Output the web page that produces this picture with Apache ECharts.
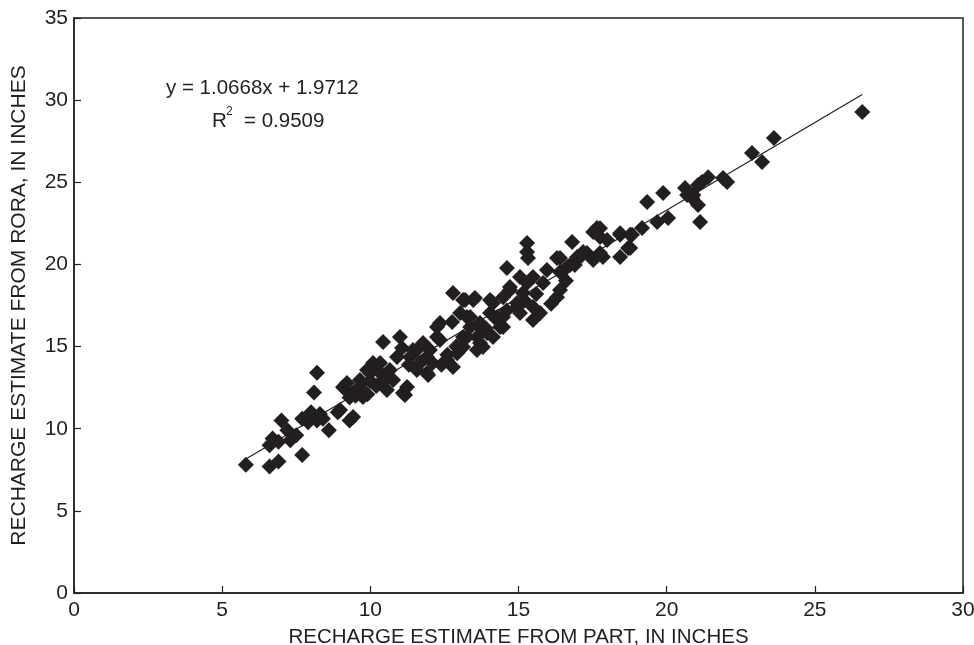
<!DOCTYPE html>
<html>
<head>
<meta charset="utf-8">
<script src="https://cdn.jsdelivr.net/npm/echarts@6/dist/echarts.min.js"></script>
<style>
  html, body { margin: 0; padding: 0; background: #fff; }
  #chart { width: 974px; height: 645px; }
</style>
</head>
<body>
<div id="chart"></div>
<script>
// recharge estimates, PART (x) vs RORA (y), inches
var partX = [
    5.8, 6.6, 6.9, 6.7, 6.6, 6.9, 7.0, 7.2, 7.3, 7.5, 7.7, 7.7, 7.9, 8.0, 8.2, 8.3, 8.4, 8.6, 8.1, 8.2, 8.9, 9.3, 9.1,
    8.98, 9.08, 9.21, 9.42, 9.42, 9.65, 9.72, 9.75, 9.75, 9.89, 9.99, 10.09, 10.09, 10.33, 10.33, 10.33, 10.43, 10.56,
    10.66, 10.77, 10.9, 11.0, 11.07, 11.1, 11.17, 11.24, 11.34, 11.44, 11.57, 11.57, 11.68, 11.78, 11.91, 11.91, 11.95,
    12.01, 9.3, 9.55, 9.9, 10.2, 9.5, 10.0, 10.5, 11.3,
    12.25, 12.25, 12.35, 12.35, 12.59, 12.76, 12.79, 12.79, 12.93, 12.93, 13.03, 13.13, 13.13, 13.13, 13.2, 13.26,
    13.26, 13.37, 13.37, 13.47, 13.53, 13.6, 13.6, 13.7, 13.7, 13.7, 13.8, 13.94, 14.04, 14.04, 14.14, 14.14, 14.28,
    14.28, 14.38, 14.48, 14.48, 14.48, 14.61, 14.71, 14.71, 14.95, 14.95, 12.4, 12.6, 12.1, 13.9, 14.6, 12.9,
    15.05, 15.05, 15.15, 15.29, 15.29, 15.29, 15.32, 15.49, 15.49, 15.49, 15.73, 15.83, 15.96, 16.3, 16.3, 16.4, 16.4,
    16.4, 16.64, 16.74, 16.81, 16.9, 16.98, 17.08, 17.18, 17.31, 17.52, 17.52, 17.65, 17.75, 17.75, 17.75, 17.85,
    17.99, 16.1, 15.6, 15.2, 16.6,
    18.43, 18.43, 18.43, 18.7, 18.77, 18.77, 18.83, 19.17, 19.34, 19.68, 19.88, 20.05, 20.62, 20.69, 20.86, 20.9,
    21.06, 21.06, 21.13, 21.19, 21.4, 21.9, 22.04,
    22.88, 23.22, 23.62, 26.6
];
var roraY = [
    7.8, 7.7, 8.0, 9.4, 9.0, 9.2, 10.5, 9.9, 9.3, 9.6, 8.4, 10.6, 10.4, 11.0, 10.5, 10.9, 10.6, 9.9, 12.2, 13.4, 11.0, 10.5, 12.5,
    11.14, 12.54, 12.78, 12.17, 10.71, 12.96, 12.78, 11.93, 12.17, 13.57, 13.39, 14.0, 13.76, 12.78, 13.39, 14.0, 15.28, 12.36,
    13.57, 12.96, 14.36, 15.58, 14.91, 12.17, 12.05, 12.54, 14.36, 14.79, 13.57, 14.79, 14.0, 15.22, 13.39, 14.36, 13.27,
    14.79, 11.9, 12.4, 12.1, 12.6, 12.0, 12.9, 13.0, 13.9,
    16.19, 15.58, 15.4, 16.43, 14.18, 16.5, 13.76, 18.26, 14.6, 14.97, 17.04, 14.97, 15.58, 17.83, 17.83, 15.58,
    16.8, 16.19, 16.8, 17.83, 17.95, 14.79, 15.58, 15.22, 16.19, 16.43, 14.97, 15.82, 17.04, 17.83, 15.58, 17.65, 16.62,
    16.8, 16.19, 16.19, 16.8, 18.0, 19.78, 18.44, 18.62, 17.41, 17.65, 13.9, 14.5, 14.0, 16.1, 17.2, 15.0,
    17.04, 19.23, 18.26, 18.87, 21.3, 20.76, 20.39, 16.62, 17.41, 19.23, 17.04, 18.87, 19.66, 18.0, 20.39, 18.44, 19.54,
    20.39, 19.84, 19.96, 21.36, 19.96, 20.45, 20.45, 20.76, 20.69, 20.27, 21.97, 22.22, 20.69, 21.67, 22.2, 20.45,
    21.48, 17.6, 18.2, 17.8, 19.0,
    20.45, 21.8, 21.9, 21.0, 21.0, 21.8, 21.8, 22.22, 23.8, 22.58, 24.35, 22.82, 24.65, 24.22, 24.04, 24.22,
    23.62, 24.84, 22.58, 25.02, 25.3, 25.26, 25.02,
    26.78, 26.23, 27.69, 29.28
];

// fitted line as printed on the chart
var slope = 1.0668;
var intercept = 1.9712;
var fitRange = [5.7, 26.6];

var xTicks = [0, 5, 10, 15, 20, 25, 30];
var yTicks = [0, 5, 10, 15, 20, 25, 30, 35];

var ink = "#231f20";
var font = "'Liberation Sans', Arial, Helvetica, sans-serif";

var points = partX.map(function (x, i) { return [x, roraY[i]]; });
var fitLine = fitRange.map(function (x) { return [x, slope * x + intercept]; });

var chart = echarts.init(document.getElementById("chart"));
chart.setOption({
    animation: false,
    backgroundColor: "#fff",
    grid: {
        left: 74, right: 11, top: 18, bottom: 52,
        outerBoundsMode: "none",
        containLabel: false,
        show: true, borderColor: ink, borderWidth: 1.5
    },
    xAxis: {
        type: "value",
        min: xTicks[0], max: xTicks[xTicks.length - 1], interval: 5,
        name: "RECHARGE ESTIMATE FROM PART, IN INCHES",
        nameLocation: "middle",
        nameGap: 34,
        nameTextStyle: { color: ink, fontSize: 20.5, fontFamily: font },
        axisLine: { onZero: false, lineStyle: { color: ink, width: 1.5 } },
        axisTick: { inside: true, length: 7, lineStyle: { color: ink, width: 1.2 } },
        axisLabel: { color: ink, fontSize: 21, fontFamily: font, margin: 7 },
        splitLine: { show: false }
    },
    yAxis: {
        type: "value",
        min: yTicks[0], max: yTicks[yTicks.length - 1], interval: 5,
        name: "RECHARGE ESTIMATE FROM RORA, IN INCHES",
        nameLocation: "middle",
        nameGap: 44,
        nameTextStyle: { color: ink, fontSize: 21, fontFamily: font },
        axisLine: { onZero: false, lineStyle: { color: ink, width: 1.5 } },
        axisTick: { inside: true, length: 7, lineStyle: { color: ink, width: 1.2 } },
        axisLabel: { color: ink, fontSize: 21, fontFamily: font, margin: 6 },
        splitLine: { show: false }
    },
    graphic: [
        {
            type: "text", left: 166, top: 78,
            style: { text: "y = 1.0668x + 1.9712", fill: ink, fontSize: 20.5, fontFamily: font }
        },
        {
            type: "text", left: 212, top: 111,
            style: { text: "R", fill: ink, fontSize: 20.5, fontFamily: font }
        },
        {
            type: "text", left: 226, top: 106,
            style: { text: "2", fill: ink, fontSize: 12, fontFamily: font }
        },
        {
            type: "text", left: 244, top: 111,
            style: { text: "= 0.9509", fill: ink, fontSize: 20.5, fontFamily: font }
        }
    ],
    series: [
        {
            type: "line",
            data: fitLine,
            symbol: "none",
            lineStyle: { color: ink, width: 1.2 },
            z: 3
        },
        {
            type: "scatter",
            data: points,
            symbol: "diamond",
            symbolSize: 16,
            itemStyle: { color: ink, opacity: 1 },
            z: 2
        }
    ]
});
</script>
</body>
</html>
